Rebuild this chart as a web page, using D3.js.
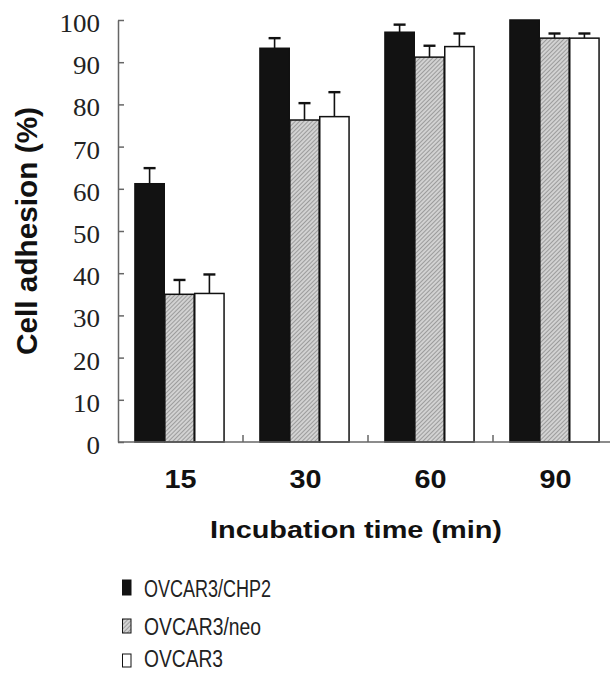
<!DOCTYPE html>
<html>
<head>
<meta charset="utf-8">
<script src="https://cdn.jsdelivr.net/npm/d3@7"></script>
<style>
  body { margin: 0; background: #fff; }
  svg { display: block; }
</style>
</head>
<body>
<svg id="chart"></svg>
<script>
const width = 610;
const height = 673;

// incubation times (min)
const categories = ["15", "30", "60", "90"];
const seriesNames = ["OVCAR3/CHP2", "OVCAR3/neo", "OVCAR3"];

// cell adhesion (%), plus upper error
const chp2 = [61.2, 93.3, 97.1, 100];
const chp2Err = [3.7, 2.4, 1.8, 0];
const neo = [35.0, 76.3, 91.2, 95.7];
const neoErr = [3.4, 4.0, 2.7, 1.1];
const ovcar3 = [35.2, 77.1, 93.7, 95.7];
const ovcar3Err = [4.5, 5.8, 3.1, 1.1];

const yTicks = [0, 10, 20, 30, 40, 50, 60, 70, 80, 90, 100];

const svg = d3.select("#chart").attr("width", width).attr("height", height);

// hatch for the neo bars
const defs = svg.append("defs");
const pat = defs.append("pattern").attr("id", "hatch").attr("patternUnits", "userSpaceOnUse")
    .attr("width", 3).attr("height", 3).attr("patternTransform", "rotate(45)");
pat.append("rect").attr("width", 3).attr("height", 3).attr("fill", "#d2d2d2");
pat.append("line").attr("x1", 0).attr("y1", 0).attr("x2", 0).attr("y2", 3).attr("stroke", "#707070").attr("stroke-width", 1.1);

const fills = ["#121212", "url(#hatch)", "#ffffff"];

const x = d3.scaleBand().domain(categories).range([118, 618]).padding(0);
const xs = d3.scaleBand().domain(seriesNames).range([0, x.bandwidth()]).paddingInner(0.02).paddingOuter(0.6);
const y = d3.scaleLinear().domain([0, 100]).range([442, 20]);

const rows = categories.map((c, i) => ({
    cat: c,
    vals: [
        { name: seriesNames[0], v: chp2[i], e: chp2Err[i], fill: fills[0] },
        { name: seriesNames[1], v: neo[i], e: neoErr[i], fill: fills[1] },
        { name: seriesNames[2], v: ovcar3[i], e: ovcar3Err[i], fill: fills[2] }
    ]
}));

// bars
const groups = svg.selectAll(".grp").data(rows).enter().append("g").attr("class", "grp")
    .attr("transform", d => `translate(${x(d.cat) - 1},0)`);

groups.selectAll(".err").data(d => d.vals.filter(v => v.e > 0)).enter().append("g").attr("class", "err")
    .each(function(d) {
        const g = d3.select(this);
        const cx = xs(d.name) + xs.bandwidth() / 2;
        g.append("line").attr("x1", cx).attr("x2", cx).attr("y1", y(d.v)).attr("y2", y(d.v + d.e))
            .attr("stroke", "#111").attr("stroke-width", 1.6);
        g.append("line").attr("x1", cx - 6).attr("x2", cx + 6).attr("y1", y(d.v + d.e)).attr("y2", y(d.v + d.e))
            .attr("stroke", "#111").attr("stroke-width", 2.4);
    });

groups.selectAll("rect").data(d => d.vals).enter().append("rect")
    .attr("x", d => xs(d.name)).attr("y", d => y(d.v))
    .attr("width", xs.bandwidth()).attr("height", d => y(0) - y(d.v))
    .attr("fill", d => d.fill).attr("stroke", "#111").attr("stroke-width", 1.5);

// y axis, ticks pointing inward
const yAxis = svg.append("g").attr("transform", "translate(118,0)")
    .call(d3.axisLeft(y).tickValues(yTicks).tickSize(-6).tickSizeOuter(0).tickPadding(18));
yAxis.select(".domain").attr("stroke", "#666").attr("stroke-width", 1.5);
yAxis.selectAll(".tick line").attr("stroke", "#666").attr("stroke-width", 1.5);
yAxis.selectAll(".tick text").attr("fill", "#222").attr("dy", "0.46em")
    .attr("textLength", d => String(d).length * 13.5).attr("lengthAdjust", "spacingAndGlyphs")
    .style("font-family", "'Liberation Serif', 'DejaVu Serif', serif").style("font-size", "25px");

// x axis
svg.append("line").attr("x1", 118).attr("x2", 618).attr("y1", y(0)).attr("y2", y(0))
    .attr("stroke", "#666").attr("stroke-width", 1.5);
svg.selectAll(".sep").data(categories.slice(1)).enter().append("line").attr("class", "sep")
    .attr("x1", d => x(d)).attr("x2", d => x(d)).attr("y1", y(0)).attr("y2", y(0) - 7)
    .attr("stroke", "#666").attr("stroke-width", 1.5);

svg.selectAll(".xlab").data(categories).enter().append("text").attr("class", "xlab")
    .attr("x", d => x(d) + x.bandwidth() / 2 - 16).attr("y", 488)
    .attr("textLength", 32).attr("lengthAdjust", "spacingAndGlyphs")
    .style("font-family", "'Liberation Sans', Arial, sans-serif").style("font-weight", "bold").style("font-size", "25px")
    .attr("fill", "#111").text(d => d);

// axis titles
svg.append("text").attr("x", 210).attr("y", 538)
    .attr("textLength", 292).attr("lengthAdjust", "spacingAndGlyphs")
    .style("font-family", "'Liberation Sans', Arial, sans-serif").style("font-weight", "bold").style("font-size", "23px")
    .attr("fill", "#111").text("Incubation time (min)");

svg.append("text").attr("transform", "translate(37,355) rotate(-90)")
    .attr("textLength", 248).attr("lengthAdjust", "spacingAndGlyphs")
    .style("font-family", "'Liberation Sans', Arial, sans-serif").style("font-weight", "bold").style("font-size", "29px")
    .attr("fill", "#111").text("Cell adhesion (%)");

// legend
const legendRows = [
    { label: seriesNames[0], fill: fills[0], ry: 580, rh: 15, ty: 596.5, tw: 127 },
    { label: seriesNames[1], fill: fills[1], ry: 619, rh: 14, ty: 635, tw: 117 },
    { label: seriesNames[2], fill: fills[2], ry: 654, rh: 13, ty: 667, tw: 79 }
];
const legend = svg.append("g");
legend.selectAll("rect").data(legendRows).enter().append("rect")
    .attr("x", 122.5).attr("y", d => d.ry).attr("width", 8.5).attr("height", d => d.rh)
    .attr("fill", d => d.fill).attr("stroke", "#111").attr("stroke-width", 1);
legend.selectAll("text").data(legendRows).enter().append("text")
    .attr("x", 144).attr("y", d => d.ty)
    .attr("textLength", d => d.tw).attr("lengthAdjust", "spacingAndGlyphs")
    .style("font-family", "'Liberation Sans', Arial, sans-serif").style("font-size", "23.5px")
    .attr("fill", "#222").text(d => d.label);
</script>
</body>
</html>
